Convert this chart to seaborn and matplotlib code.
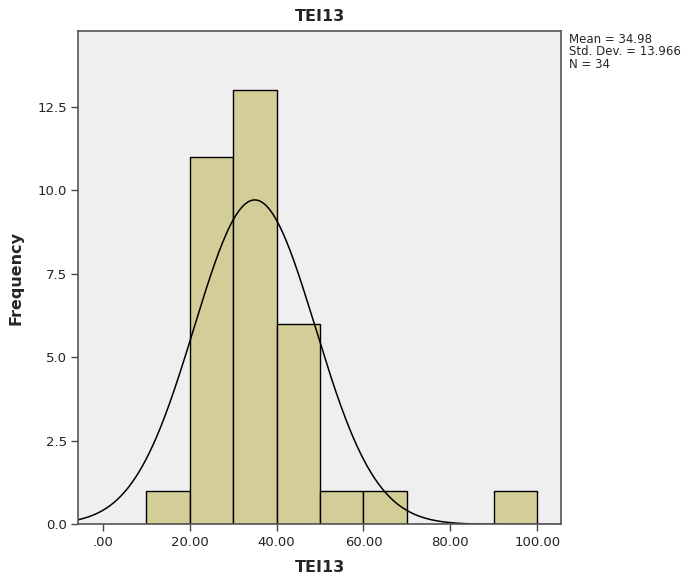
import numpy as np
import pandas as pd
import matplotlib
matplotlib.use("Agg")
import matplotlib.pyplot as plt
import seaborn as sns

# Data
bin_edges = [10, 20, 30, 40, 50, 60, 70, 80, 90, 100]
bin_counts = [1, 11, 13, 6, 1, 1, 0, 0, 1]
mean_val = 34.98
std_val = 13.966
n_val = 34
x_ticks = [0, 20, 40, 60, 80, 100]
x_tick_labels = [".00", "20.00", "40.00", "60.00", "80.00", "100.00"]
y_ticks = [0.0, 2.5, 5.0, 7.5, 10.0, 12.5]
y_tick_labels = ["0.0", "2.5", "5.0", "7.5", "10.0", "12.5"]

sns.set_style("white")
plt.rcParams['font.family'] = ['DejaVu Sans']

fig = plt.figure(figsize=(6.91, 5.84), dpi=100)
ax = fig.add_axes([0.1136, 0.102, 0.812 - 0.1136, 0.947 - 0.102])
ax.set_facecolor("#EFEFEF")

centers = [(a + b) / 2 for a, b in zip(bin_edges[:-1], bin_edges[1:])]
df = pd.DataFrame({"x": centers, "w": bin_counts})
sns.histplot(data=df, x="x", weights="w", bins=bin_edges, ax=ax,
             color="#D3CE97", edgecolor="black", linewidth=1.0, alpha=1.0)

xs = np.linspace(-5.6, 105.5, 400)
binw = bin_edges[1] - bin_edges[0]
ys = n_val * binw / (std_val * np.sqrt(2 * np.pi)) * np.exp(-0.5 * ((xs - mean_val) / std_val) ** 2)
sns.lineplot(x=xs, y=ys, ax=ax, color="black", linewidth=1.1)

ax.set_xlim(-5.6, 105.5)
ax.set_ylim(0, 14.77)
ax.set_xticks(x_ticks)
ax.set_xticklabels(x_tick_labels, fontsize=9.5, color="#222222")
ax.set_yticks(y_ticks)
ax.set_yticklabels(y_tick_labels, fontsize=9.5, color="#222222")
ax.tick_params(axis="both", direction="out", length=5, width=1, colors="#444444",
               labelcolor="#222222", bottom=True, left=True, pad=3)

for s in ax.spines.values():
    s.set_visible(True)
    s.set_color("#555555")
    s.set_linewidth(1.2)

ax.set_title("TEI13", fontsize=11.5, fontweight="bold", pad=7)
ax.set_xlabel("TEI13", fontsize=11.5, fontweight="bold", labelpad=8)
ax.set_ylabel("Frequency", fontsize=11.5, fontweight="bold", labelpad=10)

fig.text(0.823, 0.944, f"Mean = {mean_val:.2f}\nStd. Dev. = {std_val:.3f}\nN = {n_val}",
         fontsize=8.5, va="top", ha="left", linespacing=0.95)

fig.savefig("out.png", dpi=100)
